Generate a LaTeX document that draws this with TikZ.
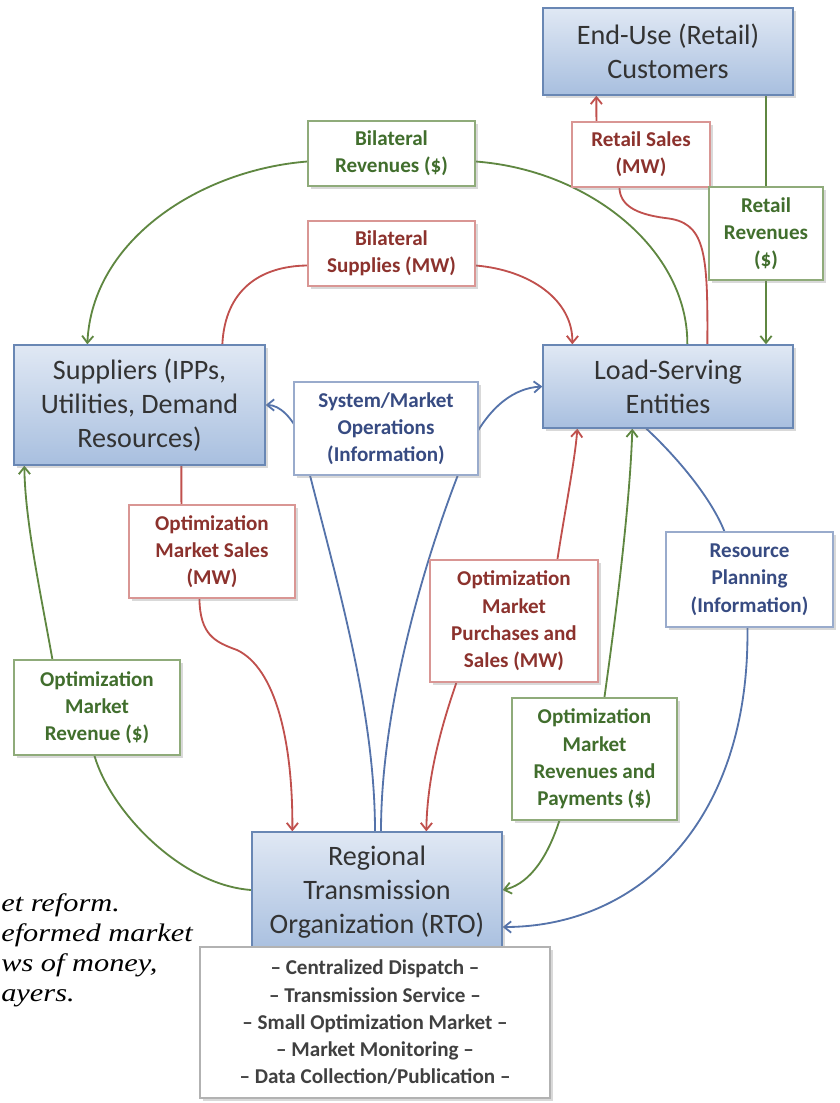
\documentclass[tikz,border=0pt]{standalone}
\usepackage{fontspec}
\setmainfont{Carlito}
\newfontfamily\capfont[FakeStretch=1.2]{Liberation Serif}
\usetikzlibrary{positioning,calc,shadows,arrows.meta,backgrounds}

\definecolor{boxtop}{RGB}{224,232,244}
\definecolor{boxbot}{RGB}{168,191,223}
\definecolor{boxline}{RGB}{105,135,180}
\definecolor{mwred}{RGB}{192,80,77}
\definecolor{mwtext}{RGB}{140,50,45}
\definecolor{usdgreen}{RGB}{95,135,65}
\definecolor{usdtext}{RGB}{65,110,45}
\definecolor{infoblue}{RGB}{85,115,170}
\definecolor{infotext}{RGB}{55,75,130}

\tikzset{
  boxshadow/.style={drop shadow={opacity=0.3,shadow xshift=2pt,shadow yshift=-2pt}},
  entity/.style={draw=boxline, line width=0.9pt, top color=boxtop, bottom color=boxbot,
    boxshadow, align=center, text=black!80, inner sep=2pt,
    font=\fontsize{20}{24}\selectfont},
  flowbox/.style={fill=white, line width=0.8pt, boxshadow, align=center, inner sep=2pt,
    font=\fontsize{15}{19.4}\selectfont\bfseries},
  mwbox/.style={flowbox, draw=mwred!60, text=mwtext},
  usdbox/.style={flowbox, draw=usdgreen!70, text=usdtext},
  infobox/.style={flowbox, draw=infoblue!60, text=infotext},
  mw/.style={draw=mwred, line width=1.3pt},
  usd/.style={draw=usdgreen, line width=1.3pt},
  info/.style={draw=infoblue, line width=1.3pt},
  caption/.style={font=\capfont\itshape\fontsize{18}{22}\selectfont, inner sep=0pt, anchor=base west},
  >={Straight Barb[length=5pt,width=8pt]}
}

\begin{document}
\begin{tikzpicture}[x=0.025cm, y=-0.025cm]
\useasboundingbox (0,0) rectangle (840,1103);

\node[entity, minimum width=6.25cm, minimum height=2.175cm] (enduse) at (668,51.5) {End-Use (Retail)\\Customers};
\node[entity, minimum width=6.25cm, minimum height=2.075cm] (lse) at (668,386.5) {Load-Serving\\Entities};
\node[entity, minimum width=6.275cm, minimum height=3cm] (sup) at (139.5,405) {Suppliers (IPPs,\\Utilities, Demand\\Resources)};
\node[entity, minimum width=6.25cm, minimum height=3cm] (rto) at (377,892) {Regional\\Transmission\\Organization (RTO)};
\node[flowbox, draw=black!30, text=black!75, minimum width=8.75cm, minimum height=3.775cm] (func) at (375,1022.5)
  {– Centralized Dispatch –\\– Transmission Service –\\– Small Optimization Market –\\– Market Monitoring –\\– Data Collection/Publication –};

\node[mwbox, minimum width=3.45cm, minimum height=1.625cm] (rsales) at (641,154.5) {Retail Sales\\(MW)};
\node[usdbox, minimum width=2.85cm, minimum height=2.325cm] (rrev) at (766,233.5) {Retail\\Revenues\\(\$)};
\node[usdbox, minimum width=4.175cm, minimum height=1.625cm] (brev) at (391.5,153.5) {Bilateral\\Revenues (\$)};
\node[mwbox, minimum width=4.175cm, minimum height=1.625cm] (bsup) at (391.5,253.5) {Bilateral\\Supplies (MW)};
\node[infobox, minimum width=4.6cm, minimum height=2.325cm] (sysops) at (386,428.5) {System/Market\\Operations\\(Information)};
\node[mwbox, minimum width=4.15cm, minimum height=2.325cm] (omsales) at (212,551.5) {Optimization\\Market Sales\\(MW)};
\node[usdbox, minimum width=4.15cm, minimum height=2.375cm] (omrev) at (97,707.5) {Optimization\\Market\\Revenue (\$)};
\node[mwbox, minimum width=4.2cm, minimum height=3.05cm] (ompur) at (514,621) {Optimization\\Market\\Purchases and\\Sales (MW)};
\node[infobox, minimum width=4.175cm, minimum height=2.375cm] (rplan) at (749.5,579.5) {Resource\\Planning\\(Information)};
\node[usdbox, minimum width=4.125cm, minimum height=3.05cm] (omrp) at (594.5,759) {Optimization\\Market\\Revenues and\\Payments (\$)};

\node[caption] (cap1) at (1,911) {et reform.};
\node[caption] (cap2) at (1,941) {eformed market};
\node[caption] (cap3) at (1,971) {ws of money,};
\node[caption] (cap4) at (1,1001) {ayers.};

\begin{pgfonlayer}{background}
\draw[mw] ($(lse.north west)+(165,0)$) .. controls (708,250) and (705,222) .. (665,218) .. controls (635,214) and (620,205) .. ($(rsales.south west)+(48,0)$);
\draw[mw,->] ($(rsales.north west)+(25,0)$) -- ($(enduse.south west)+(54,0)$);
\draw[usd] (enduse.south -| rrev.north) -- (rrev.north);
\draw[usd,->] (rrev.south) -- (rrev.south |- lse.north);

\draw[usd] ($(lse.north west)+(145,0)$) .. controls (688,250) and (590,170) .. ($(brev.east)+(0,8)$);
\draw[usd,->] ($(brev.west)+(0,8)$) .. controls (200,170) and (92,240) .. ($(sup.north west)+(74,0)$);
\draw[mw] ($(sup.north west)+(209,0)$) .. controls (225,290) and (260,266) .. ($(bsup.west)+(0,12)$);
\draw[mw,->] ($(bsup.east)+(0,12)$) .. controls (530,270) and (573,300) .. ($(lse.north west)+(30,0)$);

\draw[info,->] ($(rto.north)+(-2,0)$) .. controls (375,700) and (330,560) .. (300,435) .. controls (292,418) and (280,405) .. (sup.east);
\draw[info,->] ($(rto.north)+(4,0)$) .. controls (381,700) and (430,540) .. (470,445) .. controls (490,405) and (515,388) .. (lse.west);

\draw[mw] ($(sup.south west)+(168,0)$) -- ($(omsales.north west)+(53,0)$);
\draw[mw,->] ($(omsales.south west)+(71,0)$) .. controls (200,635) and (215,642) .. (237,650) .. controls (275,668) and (293,740) .. ($(rto.north west)+(41,0)$);
\draw[usd] ($(rto.west)+(0,-2)$) .. controls (180,885) and (110,810) .. ($(omrev.south west)+(81,0)$);
\draw[usd,->] ($(omrev.north west)+(39,0)$) .. controls (40,590) and (25,520) .. ($(sup.south west)+(11,0)$);

\draw[mw,->] ($(ompur.south west)+(27,0)$) .. controls (440,730) and (427,780) .. ($(rto.north west)+(175,0)$);
\draw[mw,->] ($(ompur.north west)+(128,0)$) .. controls (565,510) and (575,460) .. ($(lse.south west)+(35,0)$);
\draw[usd,->] ($(omrp.south west)+(48,0)$) .. controls (545,865) and (525,885) .. ($(rto.east)+(0,-2)$);
\draw[usd,->] ($(omrp.north west)+(93,0)$) .. controls (618,600) and (630,500) .. ($(lse.south west)+(90,0)$);

\draw[info] ($(lse.south west)+(104,0)$) .. controls (680,460) and (712,500) .. ($(rplan.north west)+(59,0)$);
\draw[info,->] ($(rplan.south west)+(82,0)$) .. controls (750,820) and (640,927) .. ($(rto.east)+(0,35)$);
\end{pgfonlayer}

\end{tikzpicture}
\end{document}
